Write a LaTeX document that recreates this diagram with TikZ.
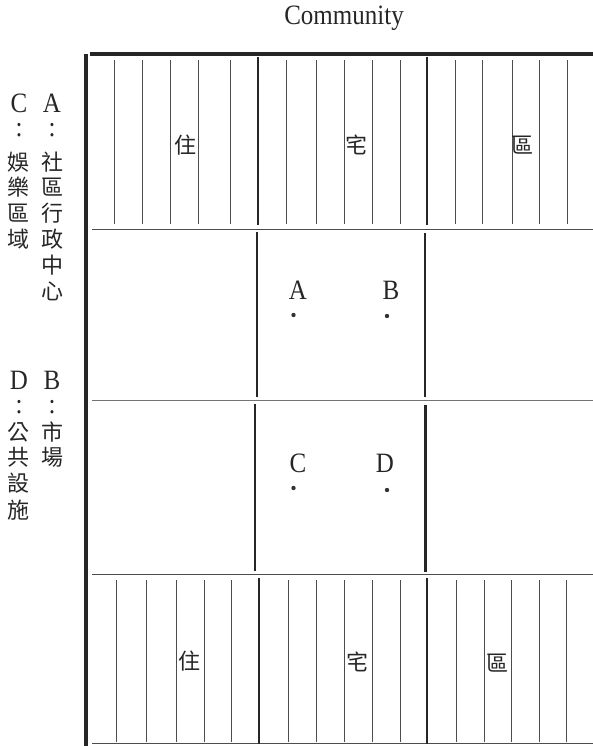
\documentclass[tikz,border=0pt]{standalone}
\usepackage{fontspec}
\usepackage{graphicx}
\newfontfamily\cjk{Noto Sans CJK TC}
\newfontfamily\lsr{Liberation Serif}
\newcommand\latn[1]{\scalebox{1}[1.12]{\lsr\fontsize{25}{25}\selectfont #1}}
\newcommand\hz[1]{{\cjk\fontsize{22}{22}\selectfont #1}}
\begin{document}
\begin{tikzpicture}[x=1pt,y=-1pt,
  frameline/.style={line width=3.2pt,draw=black!85},
  wall/.style={line width=2.6pt,draw=black!85},
  hatch/.style={line width=0.9pt,draw=black!70},
  divline/.style={line width=1pt,draw=black!70},
  lbl/.style={inner sep=0pt,text=black!85},
  dot/.style={circle,fill=black!80,inner sep=0pt,minimum size=4.4pt}]
\useasboundingbox (0,0) rectangle (593,746);
% title
\node[lbl] (title) at (344,18) {\latn{Community}};
% frame
\draw[frameline] (90,54) -- (593,54);
\draw[frameline] (86,54) -- (86,746);
% horizontal dividers
\draw[divline] (92,229) -- (593,229);
\draw[divline,draw=black!55] (92,400.5) -- (593,400.5);
\draw[divline] (92,574) -- (593,574);
\draw[divline] (92,743.5) -- (593,743.5);
% top residential band
\foreach \x in {114.5,142.5,170,198.5,230,286,316,344,372.5,400,455,482,512.5,539,567}
  \draw[hatch] (\x,60) -- (\x,224);
\draw[wall] (258,57) -- (258,225);
\draw[wall] (427,57) -- (427,225);
% bottom residential band
\foreach \x in {116.5,146.5,176,204,231,288,316,344,372,400,456,484,511,539,566.5}
  \draw[hatch] (\x,580) -- (\x,742);
\draw[wall] (259,578) -- (259,744);
\draw[wall] (427,578) -- (427,744);
% middle bands walls
\draw[wall] (257,232) -- (257,397);
\draw[wall] (425,233) -- (425,397);
\draw[wall] (255,404) -- (255,571);
\draw[wall] (425.5,405) -- (425.5,572);
% band labels
\node[lbl] (t1) at (185,145) {\hz{住}};
\node[lbl] (t2) at (356,145) {\hz{宅}};
\node[lbl] (t3) at (522,145) {\hz{區}};
\node[lbl] (b1) at (189,661) {\hz{住}};
\node[lbl] (b2) at (357,662) {\hz{宅}};
\node[lbl] (b3) at (497,663) {\hz{區}};
% facilities
\node[lbl] (lA) at (298,290) {\latn{A}};
\node[lbl] (lB) at (391,290) {\latn{B}};
\node[lbl] (lC) at (298,463) {\latn{C}};
\node[lbl] (lD) at (385,463) {\latn{D}};
\node[dot] (dA) at (293.5,315) {};
\node[dot] (dB) at (387,316) {};
\node[dot] (dC) at (293.5,488) {};
\node[dot] (dD) at (387,490) {};
% legend right column
\node[lbl] (kA) at (52,103) {\latn{A}};
\node[lbl] (kAc) at (52,130) {\latn{:}};
\node[lbl] (kA1) at (52,162) {\hz{社}};
\node[lbl] (kA2) at (52,187) {\hz{區}};
\node[lbl] (kA3) at (52,213) {\hz{行}};
\node[lbl] (kA4) at (52,239) {\hz{政}};
\node[lbl] (kA5) at (52,265) {\hz{中}};
\node[lbl] (kA6) at (52,291) {\hz{心}};
\node[lbl] (kB) at (52,380) {\latn{B}};
\node[lbl] (kBc) at (52,407) {\latn{:}};
\node[lbl] (kB1) at (52,432) {\hz{市}};
\node[lbl] (kB2) at (52,457) {\hz{場}};
% legend left column
\node[lbl] (kC) at (19,103) {\latn{C}};
\node[lbl] (kCc) at (19,130) {\latn{:}};
\node[lbl] (kC1) at (19,162) {\hz{娛}};
\node[lbl] (kC2) at (19,187) {\hz{樂}};
\node[lbl] (kC3) at (19,213) {\hz{區}};
\node[lbl] (kC4) at (19,239) {\hz{域}};
\node[lbl] (kD) at (19,380) {\latn{D}};
\node[lbl] (kDc) at (19,407) {\latn{:}};
\node[lbl] (kD1) at (19,432) {\hz{公}};
\node[lbl] (kD2) at (19,457) {\hz{共}};
\node[lbl] (kD3) at (19,483) {\hz{設}};
\node[lbl] (kD4) at (19,510) {\hz{施}};
\end{tikzpicture}
\end{document}
